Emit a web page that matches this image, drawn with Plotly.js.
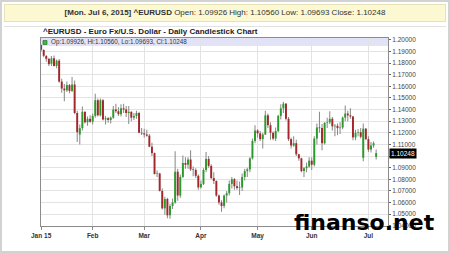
<!DOCTYPE html>
<html>
<head>
<meta charset="utf-8">
<script src="https://cdn.plot.ly/plotly-3.0.1.min.js"></script>
<style>
  html, body { margin:0; padding:0; background:#fff; }
  #wrap { position:relative; width:450px; height:253px; overflow:hidden; font-family:"Liberation Sans", Arial, sans-serif; }
  #chart { position:absolute; left:0; top:0; width:450px; height:253px; }
  #frame { position:absolute; left:0; top:0; width:450px; height:253px; box-sizing:border-box; border:2px solid #d2d2d2; pointer-events:none; }
  #hdr { position:absolute; left:4px; top:4px; width:442px; height:18px; box-sizing:border-box; background:#fbf8d2; border:1px solid #e6e2b8; text-align:center; font-size:8px; line-height:16px; color:#333; }
  #sep { position:absolute; left:4px; top:26px; width:442px; height:1px; background:#e2e2e2; }
</style>
</head>
<body>
<div id="wrap">
  <div id="chart"></div>
  <div id="hdr"></div>
  <div id="sep"></div>
  <div id="frame"></div>
</div>
<script>
const symbol = "^EURUSD";
const headerDate = "[Mon. Jul 6, 2015]";
const chartTitle = "^EURUSD - Euro Fx/U.S. Dollar - Daily Candlestick Chart";

const dates = [
"2015-01-05","2015-01-06","2015-01-07","2015-01-08","2015-01-09","2015-01-12","2015-01-13","2015-01-14","2015-01-15","2015-01-16",
"2015-01-19","2015-01-20","2015-01-21","2015-01-22","2015-01-23","2015-01-26","2015-01-27","2015-01-28","2015-01-29","2015-01-30",
"2015-02-02","2015-02-03","2015-02-04","2015-02-05","2015-02-06","2015-02-09","2015-02-10","2015-02-11","2015-02-12","2015-02-13",
"2015-02-16","2015-02-17","2015-02-18","2015-02-19","2015-02-20","2015-02-23","2015-02-24","2015-02-25","2015-02-26","2015-02-27",
"2015-03-02","2015-03-03","2015-03-04","2015-03-05","2015-03-06","2015-03-09","2015-03-10","2015-03-11","2015-03-12","2015-03-13",
"2015-03-16","2015-03-17","2015-03-18","2015-03-19","2015-03-20","2015-03-23","2015-03-24","2015-03-25","2015-03-26","2015-03-27",
"2015-03-30","2015-03-31",
"2015-04-01","2015-04-02","2015-04-03","2015-04-06","2015-04-07","2015-04-08","2015-04-09","2015-04-10","2015-04-13","2015-04-14",
"2015-04-15","2015-04-16","2015-04-17","2015-04-20","2015-04-21","2015-04-22","2015-04-23","2015-04-24","2015-04-27","2015-04-28",
"2015-04-29","2015-04-30",
"2015-05-01","2015-05-04","2015-05-05","2015-05-06","2015-05-07","2015-05-08","2015-05-11","2015-05-12","2015-05-13","2015-05-14",
"2015-05-15","2015-05-18","2015-05-19","2015-05-20","2015-05-21","2015-05-22","2015-05-25","2015-05-26","2015-05-27","2015-05-28",
"2015-05-29",
"2015-06-01","2015-06-02","2015-06-03","2015-06-04","2015-06-05","2015-06-08","2015-06-09","2015-06-10","2015-06-11","2015-06-12",
"2015-06-15","2015-06-16","2015-06-17","2015-06-18","2015-06-19","2015-06-22","2015-06-23","2015-06-24","2015-06-25","2015-06-26",
"2015-06-29","2015-06-30",
"2015-07-01","2015-07-02","2015-07-03","2015-07-06"];

const open = [
1.1952,1.1912,1.1860,1.1835,1.1795,1.1840,1.1775,1.1820,1.1640,1.1580,
1.1565,1.1610,1.1560,1.1615,1.1370,1.1185,1.1240,1.1380,1.1290,1.1320,
1.1295,1.1345,1.1480,1.1350,1.1480,1.1315,1.1325,1.1310,1.1330,1.1400,
1.1385,1.1360,1.1410,1.1400,1.1370,1.1380,1.1330,1.1345,1.1370,1.1200,
1.1195,1.1185,1.1175,1.1080,1.1025,1.0845,1.0850,1.0700,1.0550,1.0630,
1.0490,1.0570,1.0600,1.0865,1.0660,1.0820,1.0940,1.0925,1.0970,1.0885,
1.0880,1.0830,
1.0730,1.0760,1.0880,1.0975,1.0915,1.0810,1.0785,1.0660,1.0600,1.0570,
1.0660,1.0680,1.0760,1.0800,1.0740,1.0725,1.0730,1.0820,1.0870,1.0885,
1.0980,1.1130,
1.1220,1.1195,1.1145,1.1185,1.1350,1.1265,1.1200,1.1150,1.1215,1.1345,
1.1410,1.1450,1.1320,1.1145,1.1090,1.1110,1.1015,1.0980,1.0870,1.0895,
1.0910,
1.0960,1.0925,1.1150,1.1245,1.1240,1.1110,1.1285,1.1290,1.1320,1.1255,
1.1260,1.1240,1.1245,1.1330,1.1365,1.1350,1.1340,1.1160,1.1200,1.1205,
1.0985,1.1235,
1.1145,1.1055,1.1090,1.09926];

const high = [
1.1960,1.1918,1.1868,1.1845,1.1860,1.1865,1.1830,1.1835,1.1665,1.1620,
1.1640,1.1620,1.1680,1.1650,1.1390,1.1270,1.1425,1.1385,1.1340,1.1350,
1.1365,1.1535,1.1495,1.1495,1.1490,1.1345,1.1335,1.1340,1.1430,1.1450,
1.1420,1.1445,1.1450,1.1430,1.1430,1.1385,1.1370,1.1390,1.1380,1.1240,
1.1235,1.1225,1.1190,1.1115,1.1030,1.0875,1.0855,1.0720,1.0650,1.0640,
1.0590,1.0635,1.1040,1.0890,1.0840,1.1005,1.0990,1.0990,1.1050,1.0910,
1.0895,1.0840,
1.0790,1.0895,1.1035,1.1000,1.0930,1.0860,1.0790,1.0670,1.0620,1.0670,
1.0700,1.0790,1.0820,1.0810,1.0790,1.0780,1.0850,1.0890,1.0900,1.0990,
1.1150,1.1265,
1.1230,1.1215,1.1200,1.1390,1.1365,1.1290,1.1210,1.1245,1.1355,1.1445,
1.1467,1.1455,1.1335,1.1160,1.1170,1.1140,1.1020,1.0985,1.0905,1.0945,
1.0990,
1.0990,1.1170,1.1280,1.1380,1.1275,1.1290,1.1330,1.1385,1.1335,1.1275,
1.1280,1.1290,1.1340,1.1435,1.1390,1.1410,1.1345,1.1225,1.1230,1.1240,
1.1280,1.1240,
1.1170,1.1120,1.1125,1.10560];

const low = [
1.1900,1.1850,1.1810,1.1775,1.1775,1.1770,1.1755,1.1630,1.1545,1.1470,
1.1550,1.1540,1.1550,1.1360,1.1120,1.1100,1.1220,1.1280,1.1260,1.1285,
1.1270,1.1330,1.1340,1.1340,1.1305,1.1270,1.1285,1.1280,1.1320,1.1370,
1.1345,1.1340,1.1370,1.1335,1.1275,1.1300,1.1310,1.1320,1.1195,1.1180,
1.1160,1.1165,1.1075,1.1000,1.0840,1.0820,1.0695,1.0540,1.0495,1.0465,
1.0460,1.0545,1.0590,1.0615,1.0640,1.0810,1.0890,1.0890,1.0870,1.0825,
1.0810,1.0710,
1.0720,1.0750,1.0860,1.0900,1.0800,1.0760,1.0650,1.0580,1.0520,1.0550,
1.0600,1.0660,1.0720,1.0710,1.0710,1.0665,1.0700,1.0790,1.0820,1.0860,
1.0970,1.1110,
1.1160,1.1130,1.1065,1.1180,1.1240,1.1140,1.1135,1.1130,1.1205,1.1315,
1.1370,1.1305,1.1130,1.1065,1.1080,1.1000,1.0960,1.0860,1.0820,1.0860,
1.0900,
1.0880,1.0910,1.1100,1.1200,1.1050,1.1100,1.1240,1.1275,1.1220,1.1170,
1.1180,1.1190,1.1230,1.1300,1.1300,1.1320,1.1135,1.1135,1.1170,1.1150,
1.0955,1.1135,
1.1035,1.1030,1.1070,1.09693];

const close = [
1.1915,1.1862,1.1835,1.1790,1.1840,1.1775,1.1820,1.1640,1.1580,1.1565,
1.1610,1.1560,1.1615,1.1370,1.1205,1.1240,1.1380,1.1290,1.1320,1.1295,
1.1345,1.1480,1.1350,1.1480,1.1315,1.1325,1.1310,1.1330,1.1400,1.1385,
1.1360,1.1410,1.1400,1.1370,1.1380,1.1330,1.1345,1.1370,1.1200,1.1195,
1.1185,1.1175,1.1080,1.1025,1.0845,1.0850,1.0700,1.0550,1.0630,1.0490,
1.0570,1.0600,1.0865,1.0660,1.0820,1.0940,1.0925,1.0970,1.0885,1.0880,
1.0830,1.0730,
1.0760,1.0880,1.0975,1.0915,1.0810,1.0785,1.0660,1.0600,1.0570,1.0660,
1.0680,1.0760,1.0800,1.0740,1.0725,1.0730,1.0820,1.0870,1.0885,1.0980,
1.1130,1.1220,
1.1195,1.1145,1.1185,1.1350,1.1265,1.1200,1.1150,1.1215,1.1345,1.1410,
1.1450,1.1320,1.1145,1.1090,1.1110,1.1015,1.0980,1.0870,1.0895,1.0910,
1.0960,
1.0925,1.1150,1.1245,1.1240,1.1110,1.1285,1.1290,1.1320,1.1255,1.1260,
1.1240,1.1245,1.1330,1.1365,1.1350,1.1340,1.1160,1.1200,1.1205,1.1165,
1.1235,1.1145,
1.1055,1.1090,1.1110,1.10248];

const monthTickDates = ["2015-01-05","2015-02-02","2015-03-02","2015-04-01","2015-05-01","2015-06-01","2015-07-01"];
const monthTickText = ["Jan 15","Feb","Mar","Apr","May","Jun","Jul"];
const priceTicks = [1.04,1.05,1.06,1.07,1.08,1.09,1.10,1.11,1.12,1.13,1.14,1.15,1.16,1.17,1.18,1.19,1.20];

const n = dates.length;
const lo = open[n-1], lh = high[n-1], ll = low[n-1], lc = close[n-1];
const f5 = v => v.toFixed(5);

document.getElementById('hdr').innerHTML =
  '<b>' + headerDate + ' ' + symbol + '</b> Open: ' + f5(lo) + ' High: ' + f5(lh) + ' Low: ' + f5(ll) + ' Close: ' + f5(lc);

const upCol = '#2a9a2a', dnCol = '#a3262a', wickCol = '#8a8a8a';
const base = [], body = [], bodyCol = [], wickLen = [];
for (let i = 0; i < n; i++) {
  base.push(Math.min(open[i], close[i]));
  body.push(Math.max(Math.abs(close[i] - open[i]), 0.0003));
  bodyCol.push(close[i] >= open[i] ? upCol : dnCol);
  wickLen.push(high[i] - low[i]);
}
/* price label: hide the tick label hidden under the last-price box, as in the reference */
const priceTickText = priceTicks.map(v => Math.abs(v - lc) < 0.004 ? '' : f5(v));

const wicks = {
  type: 'bar', x: dates, base: low, y: wickLen, width: 0.4,
  marker: { color: wickCol, line: { width: 0 } }, showlegend: false, hoverinfo: 'skip'
};
const bodies = {
  type: 'bar', x: dates, base: base, y: body, width: 0.75,
  marker: { color: bodyCol, line: { width: 0 } }, showlegend: false, hoverinfo: 'skip'
};

const layout = {
  width: 450, height: 253,
  margin: { l: 41, r: 62, t: 38, b: 27 },
  paper_bgcolor: '#ffffff', plot_bgcolor: '#ffffff',
  showlegend: false, hovermode: false, barmode: 'overlay',
  font: { family: '"Liberation Sans", Arial, sans-serif', color: '#333' },
  xaxis: {
    type: 'category', range: [-0.05, 134.6],
    tickmode: 'array', tickvals: monthTickDates, ticktext: monthTickText,
    showgrid: true, gridcolor: '#e3e3e3', gridwidth: 1,
    showline: true, linecolor: '#8c8c8c', linewidth: 1, mirror: true,
    ticks: 'outside', ticklen: 3, tickcolor: '#8c8c8c',
    tickfont: { size: 6.5, color: '#333', weight: 'bold' },
    fixedrange: true
  },
  yaxis: {
    side: 'right', range: [1.0398, 1.2015],
    tickmode: 'array', tickvals: priceTicks, ticktext: priceTickText,
    showgrid: true, gridcolor: '#e3e3e3', gridwidth: 1, zeroline: false,
    showline: true, linecolor: '#8c8c8c', linewidth: 1, mirror: true,
    ticks: 'outside', ticklen: 2, tickcolor: '#666',
    tickfont: { size: 6.5, color: '#444' }, fixedrange: true
  },
  shapes: [
    { type: 'rect', xref: 'paper', yref: 'paper', x0: 0, x1: 1, y0: 0.957, y1: 1,
      fillcolor: '#e3e3f7', line: { width: 0 }, layer: 'between' },
    { type: 'rect', xref: 'paper', yref: 'paper', x0: 0.0058, x1: 0.0173, y0: 0.9654, y1: 0.9867,
      fillcolor: '#22cc22', line: { width: 0.6, color: '#335533' }, layer: 'above' }
  ],
  annotations: [
    { xref: 'paper', yref: 'paper', x: 0, xanchor: 'left', y: 1.032, yanchor: 'middle',
      text: '<b>' + chartTitle + '</b>', showarrow: false, font: { size: 8, color: '#222' } },
    { xref: 'paper', yref: 'paper', x: 0.023, xanchor: 'left', y: 0.977, yanchor: 'middle',
      text: 'Op:' + f5(lo) + ', Hi:' + f5(lh) + ', Lo:' + f5(ll) + ', Cl:' + f5(lc),
      showarrow: false, font: { size: 6.3, color: '#333' } },
    { xref: 'paper', yref: 'y', x: 1, xanchor: 'left', xshift: 1, y: lc, yanchor: 'middle',
      text: f5(lc), showarrow: false, bgcolor: '#000000', borderpad: 1,
      font: { size: 6.5, color: '#ffffff' } },
    { xref: 'paper', yref: 'paper', x: 0.931, xanchor: 'center', y: 0.016, yanchor: 'middle',
      text: '<b>finanso.net</b>', showarrow: false,
      font: { family: '"DejaVu Sans", Verdana, sans-serif', size: 22, color: '#000000' } }
  ]
};

Plotly.newPlot('chart', [wicks, bodies], layout, { staticPlot: true, displayModeBar: false });
</script>
</body>
</html>
